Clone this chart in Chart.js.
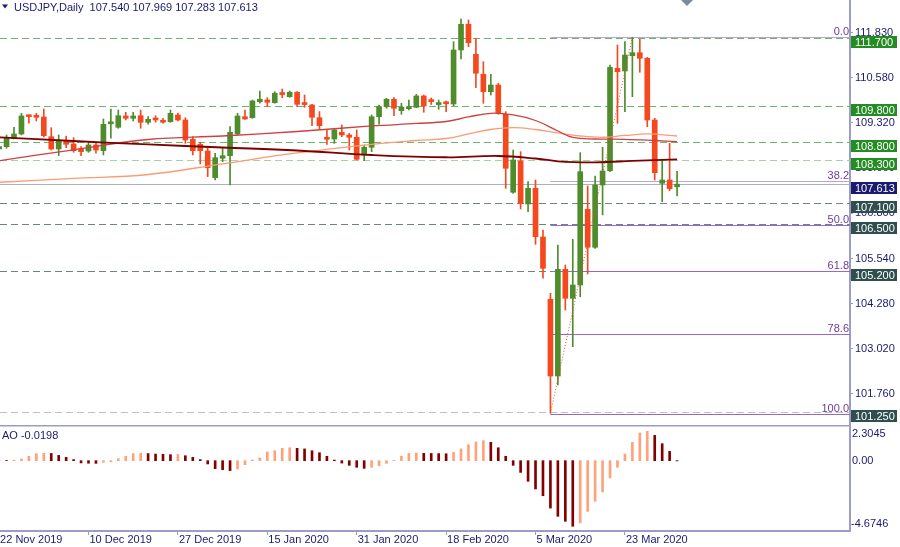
<!DOCTYPE html>
<html>
<head>
<meta charset="utf-8">
<script src="https://cdn.jsdelivr.net/npm/chart.js@4.4.1/dist/chart.umd.min.js"></script>
<style>
  body { margin: 0; background: #fff; width: 900px; height: 547px; overflow: hidden; position: relative; }
  #main { position: absolute; left: 0; top: 0; }
  #ao { position: absolute; left: 0; top: 425px; }
</style>
</head>
<body>
<canvas id="main" width="900" height="425"></canvas>
<canvas id="ao" width="900" height="122"></canvas>
<script>
// daily candles, bar index 0 = 22 Nov 2019
const opens = [108.594,108.658,108.893,109.013,109.515,109.495,109.487,108.937,108.594,108.826,
  108.734,108.594,108.538,108.706,108.547,109.297,109.200,109.515,109.451,109.523,
  109.339,109.420,109.384,109.356,109.543,109.403,108.865,108.725,108.538,107.794,
  108.335,108.407,109.013,109.495,109.467,109.914,109.961,109.886,110.128,110.053,
  110.176,109.849,109.822,109.467,108.881,108.873,109.060,108.985,108.921,108.427,
  108.642,109.495,109.774,109.981,109.663,109.718,109.757,110.073,109.933,109.833,
  109.872,109.849,111.356,112.073,111.236,110.678,110.193,110.379,109.562,107.387,
  108.259,107.060,107.498,106.139,104.402,102.262,105.238,104.430,104.801,106.912,
  105.852,107.590,107.989,110.845,110.770,111.197,111.280,111.124,109.403,107.637,
  107.729,107.540];
const highs = [108.761,108.985,109.200,109.590,109.543,109.590,109.710,109.188,108.985,108.957,
  108.909,108.658,108.770,108.781,109.431,109.710,109.682,109.618,109.618,109.682,
  109.495,109.523,109.451,109.682,109.598,109.467,108.937,108.781,108.614,108.474,
  108.614,109.216,109.590,109.682,109.961,110.212,110.025,110.193,110.268,110.212,
  110.193,110.100,109.841,109.635,109.124,109.172,109.264,109.032,109.124,108.706,
  109.543,109.822,110.008,110.025,109.869,109.961,110.120,110.100,110.017,109.961,
  109.933,111.587,112.220,112.193,111.682,111.029,110.678,110.427,109.635,108.566,
  108.519,107.682,107.729,106.335,104.569,105.916,105.359,106.075,108.491,107.562,
  107.841,108.641,110.937,111.495,111.587,111.710,111.654,111.152,109.451,108.307,
  108.753,107.969];
const lows = [108.510,108.614,108.873,108.985,109.311,109.375,108.929,108.566,108.407,108.631,
  108.502,108.407,108.502,108.474,108.427,108.893,109.172,109.403,109.375,109.172,
  109.283,109.339,109.311,109.339,109.375,108.753,108.427,108.176,107.822,107.729,
  108.240,107.590,108.985,109.417,109.451,109.869,109.774,109.869,110.025,110.036,
  109.774,109.757,109.244,109.152,108.725,108.753,108.937,108.566,108.287,108.268,
  108.519,109.283,109.729,109.523,109.562,109.682,109.746,109.618,109.835,109.702,
  109.635,109.802,111.105,111.448,110.304,109.869,110.100,109.562,107.498,107.359,
  106.921,106.845,105.936,104.988,101.222,102.011,104.103,103.079,104.475,105.108,
  105.824,106.754,107.961,109.311,109.635,110.053,110.734,109.216,107.729,107.124,
  107.431,107.283];
const closes = [108.664,108.909,109.013,109.515,109.495,109.478,108.965,108.594,108.826,108.725,
  108.547,108.519,108.706,108.566,109.283,109.319,109.523,109.451,109.515,109.339,
  109.423,109.403,109.339,109.590,109.403,108.845,108.547,108.547,108.073,108.352,
  108.407,109.060,109.515,109.431,109.933,109.981,109.897,110.148,110.112,110.176,
  109.841,109.833,109.478,109.244,108.865,109.124,108.985,108.921,108.307,108.642,
  109.495,109.774,109.981,109.729,109.757,109.774,110.073,109.794,109.916,109.849,
  109.855,111.356,112.073,111.559,110.706,110.193,110.379,109.590,108.056,108.287,
  107.080,107.498,106.148,105.266,102.262,105.238,104.430,104.801,107.961,105.852,
  107.590,107.980,110.873,110.750,111.216,111.280,111.124,109.403,107.933,107.729,
  107.487,107.613];

// moving averages at a few bars
const maFastBars = [0,10,20,30,40,50,56,60,63,66,69,72,75,78,81,84,87,91];
const maFastVals = [107.665,107.774,107.883,108.181,108.483,108.725,108.831,108.887,109.013,109.138,
  109.188,109.138,109.041,108.957,108.921,108.971,109.013,108.957];
const maMidBars = [0,10,20,30,40,50,56,60,63,66,69,72,75,77,80,84,88,91];
const maMidVals = [108.268,108.572,108.859,108.957,109.082,109.236,109.306,109.361,109.487,109.590,
  109.543,109.389,109.096,108.915,108.873,108.865,108.831,108.798];
const maSlowBars = [0,10,20,30,40,50,60,67,72,76,80,85,91];
const maSlowVals = [108.921,108.817,108.720,108.636,108.552,108.427,108.363,108.399,108.329,108.232,
  108.223,108.260,108.307];

// Awesome Oscillator
const aoValues = [0.02,0.01,0.03,0.11,0.29,0.47,0.49,0.48,0.35,0.22,
  0.07,-0.15,-0.17,-0.18,-0.11,-0.07,0.13,0.29,0.47,0.49,
  0.47,0.44,0.42,0.40,0.41,0.33,0.22,0.07,-0.22,-0.53,
  -0.60,-0.66,-0.55,-0.27,0.05,0.18,0.58,0.66,0.82,0.86,
  0.82,0.78,0.66,0.53,0.29,0.04,-0.16,-0.31,-0.44,-0.51,
  -0.44,-0.33,-0.18,0.02,0.29,0.49,0.51,0.49,0.48,0.47,
  0.46,0.55,0.78,1.06,1.24,1.33,1.22,0.86,0.29,-0.31,
  -0.78,-1.37,-1.88,-2.33,-3.15,-3.70,-4.03,-4.36,-4.14,-3.37,
  -2.70,-2.08,-1.15,-0.44,0.44,1.22,1.84,1.95,1.68,1.13,
  0.62,-0.0198];

const dateLabels = ['22 Nov 2019','10 Dec 2019','27 Dec 2019','15 Jan 2020','31 Jan 2020','18 Feb 2020','5 Mar 2020','23 Mar 2020'];
const dateBars = [0,12,24,36,48,60,72,84];
const priceTicks = [101.76,103.02,104.28,105.54,106.80,108.06,109.32,110.58,111.83];

// horizontal levels and their label boxes
const hLevels = [111.70,109.80,108.80,108.30,107.10,106.50,105.20,101.25];
const hLineColors = ['#6db46d','#6db46d','#6db46d','#a6d0a6','#6f8383','#6f8383','#6f8383','#b9c3c3'];
const hBoxColors = ['#238c23','#238c23','#238c23','#238c23','#2f4f4f','#2f4f4f','#2f4f4f','#2f4f4f'];
const lastPrice = 107.613;

// fibonacci retracement from the low bar to the high bar
const fibNames = ['0.0','38.2','50.0','61.8','78.6','100.0'];
const fibPrices = [111.705,107.690,106.465,105.200,103.440,101.190];
const fibStartBar = 74;
const trendBars = [74,85];
const trendPrices = [101.222,111.710];

const aoTicks = ['2.3045','0.00','-4.6746'];

const textColor = '#1a1a6e';
const axisColor = '#9c9cc4';
const font = {family: 'Liberation Sans', size: 11};
const greenBody = '#4e8c2c';
const redBody = '#f4491e';
const xMin = 0.121, xMax = 114.21;

function lineData(bars, vals){
  return bars.map((b, i) => ({x: b, y: vals[i]}));
}

function dashedLine(ctx, x1, x2, y, color, dash){
  ctx.strokeStyle = color;
  ctx.lineWidth = 1;
  ctx.setLineDash(dash);
  ctx.beginPath();
  ctx.moveTo(x1, y);
  ctx.lineTo(x2, y);
  ctx.stroke();
}

// levels under the candles, boxes and texts on top
const levelsPlugin = {
  id: 'levels',
  beforeDatasetsDraw(chart){
    const {ctx, chartArea: a, scales: {x, y}} = chart;
    ctx.save();
    hLevels.forEach((lv, i) => {
      const py = Math.round(y.getPixelForValue(lv)) + 0.5;
      dashedLine(ctx, a.left, a.right, py, hLineColors[i], [7, 4]);
    });
    const fx = x.getPixelForValue(fibStartBar);
    fibPrices.forEach((p, i) => {
      const py = Math.round(y.getPixelForValue(p)) + 0.5;
      dashedLine(ctx, fx, a.right, py, i < 2 ? '#b9a6dc' : '#9966cc', []);
    });
    const by = Math.round(y.getPixelForValue(lastPrice)) + 0.5;
    dashedLine(ctx, a.left, a.right, by, '#a9b1c2', []);
    ctx.restore();
  },
  afterDraw(chart){
    const {ctx, chartArea: a, scales: {y}} = chart;
    ctx.save();
    ctx.font = '11px "Liberation Sans"';
    // fib level names
    ctx.fillStyle = '#6f3b9a';
    ctx.textAlign = 'right';
    ctx.textBaseline = 'alphabetic';
    fibPrices.forEach((p, i) => {
      const py = Math.round(y.getPixelForValue(p));
      ctx.fillText(fibNames[i], a.right - 1, py - 2);
    });
    // price boxes
    ctx.textAlign = 'left';
    ctx.textBaseline = 'middle';
    const boxes = hLevels.map((lv, i) => ({v: lv, c: hBoxColors[i]}));
    boxes.push({v: lastPrice, c: '#1a1a6e'});
    boxes.forEach(b => {
      const py = Math.round(y.getPixelForValue(b.v));
      ctx.fillStyle = b.c;
      ctx.fillRect(a.right + 1, py - 2, 46, 12);
      ctx.fillStyle = '#fff';
      ctx.fillText(b.v.toFixed(3), a.right + 5, py + 4.5);
    });
    // title
    ctx.fillStyle = textColor;
    ctx.beginPath();
    ctx.moveTo(2, 4.5); ctx.lineTo(8, 4.5); ctx.lineTo(5, 8.5); ctx.closePath();
    ctx.fill();
    ctx.fillText('USDJPY,Daily  107.540 107.969 107.283 107.613', 14, 7.5);
    // chart shift marker
    ctx.fillStyle = '#7d8a9a';
    ctx.beginPath();
    ctx.moveTo(681, 0); ctx.lineTo(693, 0); ctx.lineTo(687, 6); ctx.closePath();
    ctx.fill();
    ctx.restore();
  }
};

const aoPlugin = {
  id: 'aoText',
  afterDraw(chart){
    const {ctx, chartArea: a, scales: {y}} = chart;
    ctx.save();
    ctx.fillStyle = axisColor;
    ctx.fillRect(0, 0, a.right, 1.5);
    ctx.font = '11px "Liberation Sans"';
    ctx.fillStyle = textColor;
    ctx.textBaseline = 'middle';
    ctx.fillText('AO -0.0198', 2, 11);
    ctx.fillText(aoTicks[0], a.right + 2, a.top + 8);
    ctx.fillText(aoTicks[1], a.right + 2, y.getPixelForValue(0));
    ctx.fillText(aoTicks[2], a.right + 1, a.bottom - 7);
    ctx.restore();
  }
};

function drawMain(){
  const wicks = opens.map((o, i) => ({x: i, y: [lows[i], highs[i]]}));
  const bodies = opens.map((o, i) => ({x: i, y: [Math.min(o, closes[i]), Math.max(o, closes[i])]}));
  const colors = opens.map((o, i) => closes[i] >= o ? greenBody : redBody);

  new Chart(document.getElementById('main'), {
    type: 'bar',
    data: {
      datasets: [
        {data: wicks, backgroundColor: colors, barThickness: 1, grouped: false, order: 5},
        {data: bodies, backgroundColor: colors, barThickness: 5, minBarLength: 2, grouped: false, order: 4},
        {type: 'line', data: lineData(maFastBars, maFastVals), borderColor: '#fa9c76', borderWidth: 1.3, pointRadius: 0, tension: 0.4, order: 3},
        {type: 'line', data: lineData(maMidBars, maMidVals), borderColor: '#cc4141', borderWidth: 1.3, pointRadius: 0, tension: 0.4, order: 2},
        {type: 'line', data: lineData(maSlowBars, maSlowVals), borderColor: '#7d0000', borderWidth: 1.8, pointRadius: 0, tension: 0.4, order: 1},
        {type: 'line', data: lineData(trendBars, trendPrices), borderColor: '#e8503c', borderWidth: 1, borderDash: [1, 2], pointRadius: 0, order: 0}
      ]
    },
    options: {
      responsive: false,
      animation: false,
      layout: {padding: 0},
      plugins: {legend: {display: false}, tooltip: {enabled: false}},
      scales: {
        x: {type: 'linear', min: xMin, max: xMax, offset: false, display: false, grid: {offset: false}},
        y: {
          position: 'right', min: 100.895, max: 112.75,
          afterBuildTicks: s => { s.ticks = priceTicks.map(v => ({value: v})); },
          afterFit: s => { s.width = 50; s.paddingTop = 0; s.paddingBottom = 0; },
          ticks: {callback: v => v.toFixed(3), color: textColor, font: font, padding: 2},
          grid: {drawOnChartArea: false, tickLength: 3, color: axisColor},
          border: {color: axisColor, width: 2}
        }
      }
    },
    plugins: [levelsPlugin]
  });
}

function drawAO(){
  const colors = aoValues.map((v, i) => (i === 0 || v >= aoValues[i - 1]) ? '#ffa27c' : '#820000');
  new Chart(document.getElementById('ao'), {
    type: 'bar',
    data: {
      datasets: [{data: aoValues.map((v, i) => ({x: i, y: v})), backgroundColor: colors, barThickness: 2, grouped: false}]
    },
    options: {
      responsive: false,
      animation: false,
      layout: {padding: {top: 1}},
      plugins: {legend: {display: false}, tooltip: {enabled: false}},
      scales: {
        x: {
          type: 'linear', min: xMin, max: xMax, offset: false, position: 'bottom',
          afterBuildTicks: s => { s.ticks = dateBars.map(v => ({value: v})); },
          afterFit: s => { s.height = 16; s.paddingLeft = 0; s.paddingRight = 0; },
          ticks: {callback: v => dateLabels[dateBars.indexOf(v)], align: 'start', labelOffset: 1, padding: -2, color: textColor, font: font, maxRotation: 0, autoSkip: false},
          grid: {drawOnChartArea: false, tickLength: 4, color: axisColor, offset: false},
          border: {color: axisColor, width: 2}
        },
        y: {
          position: 'right', min: -4.6746, max: 2.3045,
          afterFit: s => { s.width = 50; s.paddingTop = 0; s.paddingBottom = 0; },
          ticks: {display: false},
          grid: {display: false},
          border: {color: axisColor, width: 2}
        }
      }
    },
    plugins: [aoPlugin]
  });
}

drawMain();
drawAO();
</script>
</body>
</html>
